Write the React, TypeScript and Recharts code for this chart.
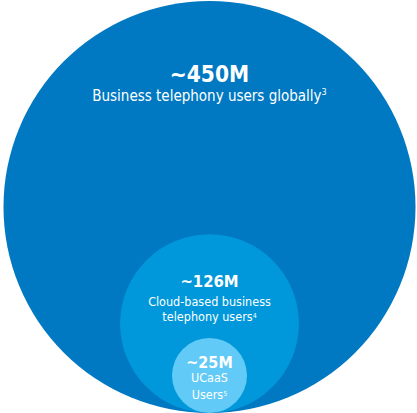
import { ScatterChart, Scatter, XAxis, YAxis } from 'recharts';

// user base segments, outer to inner
const segments = ['Business telephony', 'Cloud-based business telephony', 'UCaaS'];
const userCounts = ['~450M', '~126M', '~25M'];
const descriptions = [
  ['Business telephony users globally'],
  ['Cloud-based business', 'telephony users'],
  ['UCaaS', 'Users'],
];
const footnotes = ['3', '4', '5'];
// circle diameters, as % of the outer circle
const diameters = [100, 43.4, 18.2];

const WIDTH = 417;
const HEIGHT = 413;
const MARGIN = { top: 1, right: 0, bottom: 0, left: 2 };
const PLOT_BOTTOM = HEIGHT - MARGIN.bottom;
const FONT = "'DejaVu Sans Condensed', 'DejaVu Sans', sans-serif";

const colors = ['#0079C2', '#0098DA', '#62CAF6'];

// text placement inside each circle (px from circle top)
const textLayout = [
  { valueY: 80.5, valueSize: 22.5, lineY: 99.5, lineGap: 15, lineSize: 15, supSize: 9, supDy: -6 },
  { valueY: 52.7, valueSize: 16.5, lineY: 72, lineGap: 15, lineSize: 12.5, supSize: 7, supDy: -3 },
  { valueY: 29.5, valueSize: 16, lineY: 44, lineGap: 17, lineSize: 12.5, supSize: 7, supDy: -3 },
];

const data = segments.map((name, i) => ({
  name,
  x: 50,
  y: diameters[i],
  value: userCounts[i],
  lines: descriptions[i],
  note: footnotes[i],
  idx: i,
}));

const Bubble = (props: any) => {
  const { cx, cy, payload } = props;
  const r = (PLOT_BOTTOM - cy) / 2;
  const t = textLayout[payload.idx];
  const last = payload.lines.length - 1;
  return (
    <g>
      <circle cx={cx} cy={cy + r} r={r} fill={colors[payload.idx]} />
      <text
        x={cx}
        y={cy + t.valueY}
        textAnchor="middle"
        fill="#fff"
        fontFamily={FONT}
        fontWeight="bold"
        fontSize={t.valueSize}
      >
        {payload.value}
      </text>
      {payload.lines.map((line: string, j: number) => (
        <text
          key={j}
          x={cx}
          y={cy + t.lineY + j * t.lineGap}
          textAnchor="middle"
          fill="#fff"
          fontFamily={FONT}
          fontSize={t.lineSize}
        >
          {line}
          {j === last && (
            <tspan fontSize={t.supSize} dy={t.supDy}>
              {payload.note}
            </tspan>
          )}
        </text>
      ))}
    </g>
  );
};

export default function App() {
  return (
    <div style={{ width: WIDTH, height: HEIGHT, background: '#fff' }}>
      <style>{'body{margin:0}'}</style>
      <ScatterChart width={WIDTH} height={HEIGHT} margin={MARGIN}>
        <XAxis type="number" dataKey="x" domain={[0, 100]} hide />
        <YAxis type="number" dataKey="y" domain={[0, 100]} hide />
        <Scatter data={data} shape={<Bubble />} isAnimationActive={false} />
      </ScatterChart>
    </div>
  );
}
